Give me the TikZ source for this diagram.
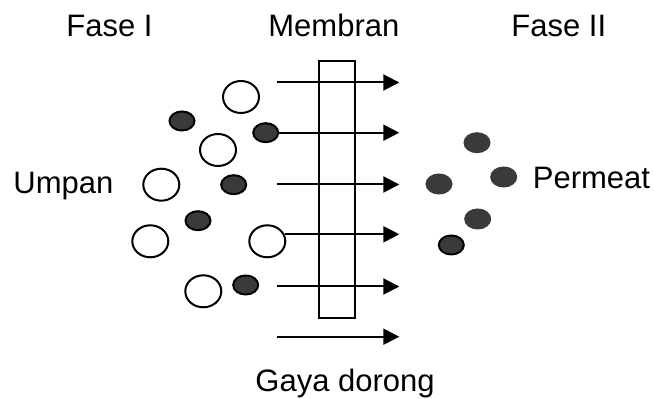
\documentclass[tikz,border=0pt]{standalone}
\usepackage{fontspec}
\setmainfont{Liberation Sans}
\usetikzlibrary{shapes.geometric,arrows.meta}

\definecolor{ccdark}{RGB}{58,58,58}

\tikzset{
  feed/.style={ellipse, draw, line width=1pt, fill=white, inner sep=0pt,
    minimum width=18pt, minimum height=16pt},
  solute/.style={ellipse, draw, line width=1pt, fill=ccdark, inner sep=0pt,
    minimum width=12.5pt, minimum height=9.5pt},
  passed/.style={solute, draw=ccdark},
  flow/.style={line width=1pt, -{Triangle[length=8pt,width=8pt]}},
  label/.style={anchor=base west, inner sep=0pt, font=\fontsize{15.5}{18}\selectfont}
}

\begin{document}
\begin{tikzpicture}[x=0.5pt, y=-0.5pt]
  \useasboundingbox (0,0) rectangle (654,399);

  % Labels
  \node[label] (fase1) at (66,36.7) {Fase I};
  \node[label] (membran) at (268,36.7) {Membran};
  \node[label] (fase2) at (511,36.7) {Fase II};
  \node[label] (umpan) at (13,194) {Umpan};
  \node[label] (permeat) at (532.5,188.3) {Permeat};
  \node[label] (gaya) at (255,391.7) {Gaya dorong};

  % Membrane
  \node[draw, line width=1pt, minimum width=18pt, minimum height=128.3pt,
    inner sep=0pt] (mem) at (337,189.3) {};

  % Driving force arrows
  \coordinate (tip) at (399.3,0);
  \foreach \i/\y in {1/82.5, 3/184.5, 5/286.5, 6/336.7} {
    \coordinate (s\i) at (277,\y);
    \draw[flow] (s\i) -- (s\i -| tip);
  }

  % Feed side: large and small molecules
  \node[feed] (u1) at (241,97) {};
  \node[feed] (u2) at (218,150) {};
  \node[feed] (u3) at (161.3,184.7) {};
  \node[feed] (u4) at (150.3,241.3) {};
  \node[feed] (u5) at (267.3,241.3) {};
  \node[feed] (u6) at (203.3,291.3) {};
  \node[solute] (d1) at (182,121) {};
  \node[solute] (d2) at (265.7,132.7) {};
  \node[solute] (d3) at (233.7,184.7) {};
  \node[solute] (d4) at (198,220.7) {};
  \node[solute] (d5) at (245.7,285) {};

  \draw[flow] (d2) -- (d2 -| tip);
  \draw[flow] (u5.22) -- (u5.22 -| tip);

  % Permeate side
  \node[passed] (p1) at (477,142.7) {};
  \node[passed] (p2) at (439,184) {};
  \node[passed] (p3) at (503.7,177) {};
  \node[passed] (p4) at (477.7,219) {};
  \node[solute] (p5) at (451.3,245) {};

\end{tikzpicture}
\end{document}
